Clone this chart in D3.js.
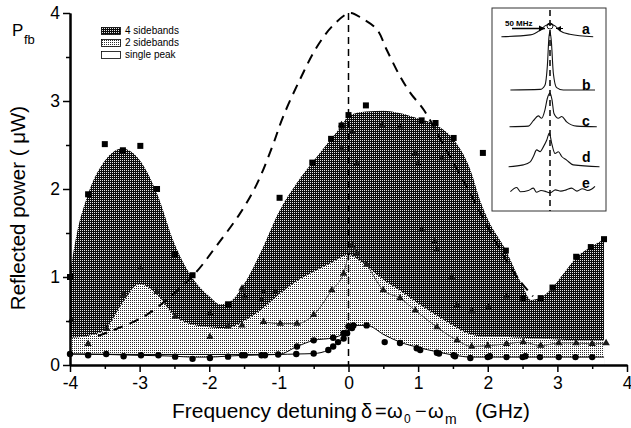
<!DOCTYPE html>
<html><head><meta charset="utf-8">
<script src="https://cdn.jsdelivr.net/npm/d3@7"></script>
<style>body{margin:0;background:#fff}svg{display:block}</style>
</head><body>
<svg id="chart" width="631" height="428"></svg>
<script>
// ---------------- DATA ----------------
const xTicks = [-4,-3,-2,-1,0,1,2,3,4];
const yTicks = [0,1,2,3,4];
const legendLabels = ["4 sidebands","2 sidebands","single peak"];

// boundary of the "4 sidebands" region (upper envelope)
const upperCurve = [[-4,1.05],[-3.9,1.5],[-3.75,1.92],[-3.5,2.32],[-3.25,2.46],[-3.0,2.33],[-2.75,1.95],[-2.5,1.38],[-2.25,1.0],[-2.0,0.78],[-1.85,0.69],[-1.7,0.72],[-1.5,0.92],[-1.25,1.3],[-1.0,1.74],[-0.75,2.06],[-0.5,2.32],[-0.25,2.57],[-0.1,2.72],[0,2.83],[0.25,2.88],[0.5,2.89],[0.75,2.86],[1.0,2.8],[1.25,2.73],[1.5,2.57],[1.75,2.22],[1.9,1.85],[2.0,1.66],[2.25,1.32],[2.5,0.9],[2.62,0.74],[2.75,0.76],[2.93,0.88],[3.1,1.05],[3.27,1.22],[3.48,1.34],[3.67,1.43]];
// boundary of the "2 sidebands" region
const midCurve = [[-4,0.31],[-3.75,0.33],[-3.5,0.4],[-3.25,0.7],[-3.0,0.92],[-2.75,0.8],[-2.5,0.56],[-2.25,0.46],[-2.0,0.43],[-1.75,0.42],[-1.5,0.5],[-1.25,0.63],[-1.0,0.8],[-0.75,0.95],[-0.5,1.06],[-0.25,1.16],[0,1.25],[0.1,1.22],[0.25,1.13],[0.5,0.97],[0.75,0.84],[1.0,0.7],[1.25,0.57],[1.5,0.45],[1.75,0.35],[2.0,0.32],[2.25,0.32],[2.5,0.31],[2.75,0.3],[3.0,0.29],[3.25,0.28],[3.5,0.28],[3.67,0.28]];
// boundary of the "single peak" region
const lowCurve = [[-4,0.125],[-3.5,0.12],[-3.0,0.11],[-2.5,0.1],[-2.25,0.09],[-2.0,0.09],[-1.75,0.1],[-1.5,0.11],[-1.0,0.12],[-0.74,0.21],[-0.5,0.28],[-0.22,0.31],[-0.07,0.36],[0.0,0.44],[0.07,0.45],[0.26,0.45],[0.52,0.34],[0.74,0.26],[1.0,0.2],[1.27,0.15],[1.53,0.11],[1.75,0.09],[2.0,0.09],[2.5,0.09],[3.0,0.09],[3.67,0.09]];
// second single-peak series (circles)
const circleLine2 = [[-4,0.125],[-3.0,0.12],[-2.0,0.12],[-1.0,0.12],[-0.75,0.125],[-0.5,0.13],[-0.29,0.17],[-0.22,0.21],[-0.15,0.26],[-0.07,0.3],[-0.02,0.36],[0.05,0.42]];

// lorentzian-like envelope (dashed)
const envelope = [[-3.6,0.33],[-3.43,0.38],[-2.9,0.57],[-2.23,1.02],[-1.9,1.35],[-1.56,1.72],[-1.32,2.05],[-1.1,2.47],[-0.94,2.82],[-0.7,3.24],[-0.45,3.62],[-0.22,3.86],[0.02,4.0],[0.19,3.94],[0.41,3.81],[0.55,3.58],[0.74,3.28],[0.89,3.09],[1.08,2.9],[1.4,2.45],[1.75,1.95],[2.1,1.42],[2.42,1.0],[2.65,0.78]];

const squares = [[-4,1.0],[-3.74,1.94],[-3.5,2.51],[-3.24,2.44],[-2.99,2.49],[-2.75,2.0],[-2.49,1.26],[-2.24,1.02],[-1.73,0.69],[-0.99,1.9],[-0.52,2.3],[-0.25,2.57],[-0.1,2.72],[0.0,2.84],[0.25,2.95],[1.05,2.78],[1.25,2.75],[1.51,2.58],[1.93,2.41],[2.26,1.3],[2.51,0.76],[2.76,0.76],[2.93,0.88],[3.27,1.23],[3.48,1.34],[3.67,1.43]];
const innerMarks = [[-0.1,2.73],[0.05,2.65],[0.48,2.73],[0.74,2.71],[-0.1,2.46],[0.12,2.29],[0.96,2.41],[1.0,2.29],[1.34,2.35],[1.05,1.54],[1.24,1.4],[1.27,1.31],[1.48,1.0],[1.56,0.68],[1.77,0.62],[2.01,0.66],[2.27,0.78],[-1.22,0.83],[-1.05,0.83],[-1.25,0.74],[-1.53,0.87],[-1.49,0.78],[-1.99,0.59],[-3.98,0.51]];
const triLeft = [[-3.74,0.24],[-3.47,0.41],[-3.23,0.8],[-2.99,1.1],[-2.75,0.83],[-2.49,0.55],[-1.99,0.32],[-1.73,0.44],[-1.53,0.45]];
const triLine = [[-1.22,0.49],[-0.98,0.47],[-0.74,0.47],[-0.5,0.57],[-0.24,0.85],[-0.07,1.04],[0.05,1.36],[0.12,1.27],[0.26,1.14],[0.5,0.85],[0.74,0.76],[0.96,0.62],[1.27,0.43],[1.56,0.28],[1.77,0.21],[2.0,0.22],[2.27,0.24],[2.51,0.26],[2.76,0.22],[3.02,0.25],[3.27,0.25],[3.5,0.24],[3.7,0.25]];
const circles = [[-4,0.125],[-3.74,0.11],[-3.48,0.125],[-3.23,0.1],[-2.98,0.11],[-2.73,0.11],[-2.49,0.095],[-2.24,0.07],[-1.99,0.08],[-1.73,0.095],[-1.53,0.11],[-1.49,0.11],[-1.25,0.11],[-1.2,0.11],[-1.01,0.12],[-0.75,0.125],[-0.74,0.21],[-0.5,0.28],[-0.5,0.13],[-0.29,0.17],[-0.22,0.21],[-0.22,0.31],[-0.15,0.26],[-0.07,0.3],[-0.07,0.36],[-0.02,0.36],[0.0,0.44],[0.05,0.42],[0.07,0.45],[0.26,0.45],[0.52,0.26],[0.74,0.25],[0.98,0.19],[1.03,0.17],[1.27,0.14],[1.3,0.13],[1.51,0.11],[1.53,0.1],[1.75,0.08],[2.0,0.09],[2.03,0.1],[2.27,0.09],[2.5,0.09],[2.54,0.1],[2.75,0.09],[3.02,0.09],[3.26,0.09],[3.5,0.09]];

// inset spectra (channel offset, relative amplitude)
const insetLabels = ["a","b","c","d","e"];
const traceA = [[-54,0],[-22,0.03],[-11,0.11],[-5.6,0.18],[0,0.21],[5.6,0.18],[11,0.1],[22,0.04],[48,0]];
const traceB = [[-44,0],[-11,0.01],[-5.6,0.08],[-3,0.39],[-1.1,0.89],[0,0.97],[1.4,0.83],[3.7,0.28],[7.4,0.04],[14.8,0],[50,0]];
const traceC = [[-45,0],[-24,0.01],[-18.5,0.1],[-13,0.18],[-9.3,0.14],[-5.6,0.28],[-3,0.47],[0,0.56],[2.2,0.45],[4.4,0.22],[9.3,0.14],[13,0.17],[18.5,0.08],[29.6,0.01],[52,0]];
const traceD = [[-46,0],[-29.6,0.03],[-22,0.08],[-18.5,0.17],[-14.8,0.28],[-11,0.25],[-7.4,0.33],[-3.7,0.44],[-0.7,0.56],[1.9,0.39],[5.6,0.22],[9.3,0.25],[13,0.17],[18.5,0.11],[25.9,0.03],[55,0]];
const traceE = [[-44,0],[-37,0.07],[-33,0],[-24,0.02],[-18.5,0.06],[-15,-0.01],[-10,0.02],[-4,0],[0,-0.02],[6,0.03],[12,0.01],[18,0.03],[24,0.06],[30,0.01],[36,0.05],[42,0.02],[46,0.04],[50,0.09]];

// ---------------- DRAW ----------------
const svg = d3.select("#chart");
const FONT = "'Liberation Sans', Arial, Helvetica, sans-serif";
const x = d3.scaleLinear().domain([-4,4]).range([70,627]);
const y = d3.scaleLinear().domain([0,4]).range([365,13]);

const defs = svg.append("defs");
const pDark = defs.append("pattern").attr("id","pDark").attr("patternUnits","userSpaceOnUse").attr("width",2).attr("height",2);
pDark.append("rect").attr("width",2).attr("height",2).attr("fill","#0c0c0c");
pDark.append("rect").attr("width",1).attr("height",1).attr("fill","#e8e8e8");
const pLight = defs.append("pattern").attr("id","pLight").attr("patternUnits","userSpaceOnUse").attr("width",2).attr("height",2);
pLight.append("rect").attr("width",2).attr("height",2).attr("fill","#ffffff");
pLight.append("rect").attr("width",1).attr("height",1).attr("fill","#2a2a2a");

const area = d3.area().x(d=>x(d[0])).y0(y(0)).y1(d=>y(d[1])).curve(d3.curveMonotoneX);
const line = d3.line().x(d=>x(d[0])).y(d=>y(d[1])).curve(d3.curveMonotoneX);

svg.append("path").datum(upperCurve).attr("d",area).attr("fill","url(#pDark)");
svg.append("path").datum(midCurve).attr("d",area).attr("fill","url(#pLight)");
svg.append("path").datum(lowCurve).attr("d",area).attr("fill","#fff");

// thin fit lines
svg.append("path").datum(lowCurve).attr("d",line).attr("fill","none").attr("stroke","#000").attr("stroke-width",1);
svg.append("path").datum(circleLine2).attr("d",line).attr("fill","none").attr("stroke","#000").attr("stroke-width",1);
svg.append("path").datum(triLine).attr("d",line).attr("fill","none").attr("stroke","#333").attr("stroke-width",0.8);

// markers
svg.append("g").selectAll("path").data(innerMarks).join("path")
  .attr("transform",d=>`translate(${x(d[0])},${y(d[1])})`)
  .attr("d",d3.symbol(d3.symbolTriangle,22)).attr("fill","#111");
svg.append("g").selectAll("path").data(triLeft.concat(triLine)).join("path")
  .attr("transform",d=>`translate(${x(d[0])},${y(d[1])})`)
  .attr("d",d3.symbol(d3.symbolTriangle,24)).attr("fill","#1a1a1a");
svg.append("g").selectAll("rect").data(squares).join("rect")
  .attr("x",d=>x(d[0])-3).attr("y",d=>y(d[1])-3).attr("width",6).attr("height",6).attr("fill","#000");
svg.append("g").selectAll("circle").data(circles).join("circle")
  .attr("cx",d=>x(d[0])).attr("cy",d=>y(d[1])).attr("r",3.2).attr("fill","#000");

// dashed envelope and vertical line
svg.append("path").datum(envelope).attr("d",d3.line().x(d=>x(d[0])).y(d=>y(d[1])).curve(d3.curveCatmullRom))
  .attr("fill","none").attr("stroke","#000").attr("stroke-width",2).attr("stroke-dasharray","10,7");
svg.append("line").attr("x1",x(0)).attr("x2",x(0)).attr("y1",y(4)).attr("y2",y(0))
  .attr("stroke","#000").attr("stroke-width",1.5).attr("stroke-dasharray","7,5");

// axes
const fmt = d => String(d);
svg.append("g").attr("transform",`translate(0,${y(0)})`)
  .call(d3.axisBottom(x).tickValues(xTicks).tickFormat(fmt).tickSize(7).tickSizeOuter(0).tickPadding(5));
svg.append("g").attr("transform",`translate(0,${y(0)})`)
  .call(d3.axisBottom(x).tickValues(xTicks.slice(0,-1).map(v=>v+0.5)).tickFormat("").tickSize(4).tickSizeOuter(0));
svg.append("g").attr("transform",`translate(${x(-4)},0)`)
  .call(d3.axisLeft(y).tickValues(yTicks).tickFormat(fmt).tickSize(7).tickSizeOuter(0).tickPadding(3));
svg.append("g").attr("transform",`translate(${x(-4)},0)`)
  .call(d3.axisLeft(y).tickValues(yTicks.slice(0,-1).map(v=>v+0.5)).tickFormat("").tickSize(4).tickSizeOuter(0));
svg.selectAll(".domain").attr("stroke","#000").attr("stroke-width",2);
svg.selectAll(".tick line").attr("stroke","#000").attr("stroke-width",1.5);
svg.selectAll(".tick text").attr("font-family",FONT).attr("font-size",17.5).attr("fill","#000");

// axis titles
svg.append("text").attr("transform","translate(25,208) rotate(-90)").attr("text-anchor","middle")
  .attr("font-family",FONT).attr("font-size",20.5).text("Reflected power  ( \u03bcW)");
svg.append("text").attr("x",12).attr("y",36).attr("font-family",FONT).attr("font-size",17).text("P");
svg.append("text").attr("x",24).attr("y",44).attr("font-family",FONT).attr("font-size",13).text("fb");

const xt = svg.append("g").attr("font-family",FONT);
// [text, x, dy, size, width]
const parts = [["Frequency detuning",172,0,20,185],["\u03b4",361,0,20,0],["=",375,0,20,0],["\u03c9",387,0,20,0],["0",404,5,12,0],["\u2212",415,0,20,0],["\u03c9",428,0,20,0],["m",445,6,14,0],["(GHz)",475,0,20,55]];
parts.forEach(p=>{
  const t = xt.append("text").attr("x",p[1]).attr("y",418+p[2]).attr("font-size",p[3]).text(p[0]);
  if (p[4]) t.attr("textLength",p[4]).attr("lengthAdjust","spacingAndGlyphs");
});

// legend
const lg = svg.append("g");
const fills = ["url(#pDark)","url(#pLight)","#fff"];
legendLabels.forEach((t,i)=>{
  lg.append("rect").attr("x",101.5).attr("y",27.5+i*12).attr("width",19).attr("height",7)
    .attr("fill",fills[i]).attr("stroke","#000").attr("stroke-width",0.8);
  lg.append("text").attr("x",125).attr("y",34+i*12).attr("font-family",FONT).attr("font-size",10).text(t);
});

// inset
const ins = svg.append("g");
ins.append("rect").attr("x",492).attr("y",8).attr("width",114).attr("height",203).attr("fill","#fff").attr("stroke","#333").attr("stroke-width",1);
const ix = d3.scaleLinear().domain([-50,50]).range([505,595]);
const iy = d3.scaleLinear().domain([0,1]).range([0,-60]);
const traces = [traceA,traceB,traceC,traceD,traceE];
const baselines = [36.7,90,126.7,166.7,191.7];
traces.forEach((tr,i)=>{
  ins.append("path").datum(tr)
    .attr("d",d3.line().x(d=>ix(d[0])).y(d=>baselines[i]+iy(d[1])).curve(d3.curveMonotoneX))
    .attr("fill","none").attr("stroke","#111").attr("stroke-width",1.1);
  ins.append("text").attr("x",582).attr("y",[34,90,126,162,188][i]).attr("font-family",FONT)
    .attr("font-weight","bold").attr("font-size",14).text(insetLabels[i]);
});
ins.append("line").attr("x1",ix(0)).attr("x2",ix(0)).attr("y1",10).attr("y2",211)
  .attr("stroke","#000").attr("stroke-width",1.5).attr("stroke-dasharray","6,4");
ins.append("text").attr("x",505).attr("y",26).attr("font-family",FONT).attr("font-weight","bold").attr("font-size",8).text("50 MHz");
defs.append("marker").attr("id","arr").attr("viewBox","0 0 6 6").attr("refX",6).attr("refY",3)
  .attr("markerWidth",5).attr("markerHeight",5).attr("orient","auto")
  .append("path").attr("d","M0,0L6,3L0,6Z").attr("fill","#000");
ins.append("line").attr("x1",512).attr("x2",545).attr("y1",28.5).attr("y2",28.5).attr("stroke","#000").attr("stroke-width",1.3).attr("marker-end","url(#arr)");
ins.append("line").attr("x1",563).attr("x2",556).attr("y1",28.5).attr("y2",28.5).attr("stroke","#000").attr("stroke-width",1).attr("marker-end","url(#arr)");
ins.append("circle").attr("cx",ix(0)).attr("cy",26).attr("r",3).attr("fill","none").attr("stroke","#000").attr("stroke-width",0.9);
</script>
</body></html>
